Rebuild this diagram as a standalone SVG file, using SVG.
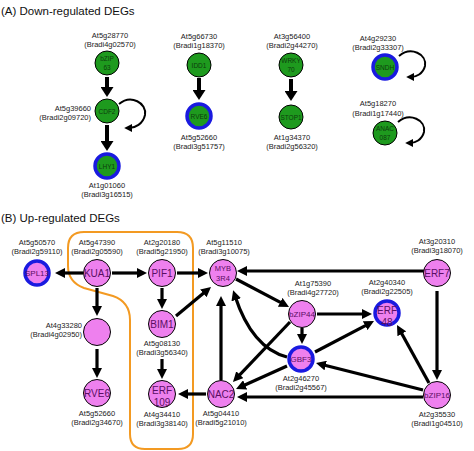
<svg xmlns="http://www.w3.org/2000/svg" width="474" height="451" viewBox="0 0 474 451">
<style>
text{font-family:"Liberation Sans",Arial,sans-serif}
.lbl{font-size:7.5px;fill:#222;text-anchor:middle}
.lr{text-anchor:end}
.title{font-size:11.5px;fill:#111}
.gn{fill:#1e9a1e;stroke:#000;stroke-width:1}
.gnb{fill:#1e9a1e;stroke:#1a1ae0;stroke-width:3.5}
.pn{fill:#ee80ee;stroke:#000;stroke-width:1}
.pnb{fill:#ee80ee;stroke:#1a1ae0;stroke-width:3.5}
.gt{font-size:6.5px;fill:#0d3d0d;text-anchor:middle}
.pt{font-size:10px;fill:#5a0f63;text-anchor:middle}
.ps{font-size:8px;fill:#5a0f63;text-anchor:middle}
.e{stroke:#000;stroke-width:3.2;fill:none;marker-end:url(#ah)}
.ea{stroke:#000;stroke-width:4;fill:none;marker-end:url(#aha)}
.loop{stroke:#000;stroke-width:2;fill:none;marker-end:url(#ahl)}
.hull{fill:none;stroke:#f39a22;stroke-width:2}
</style>
<defs>
<marker id="ah" markerUnits="userSpaceOnUse" viewBox="0 0 10 10" markerWidth="10" markerHeight="10" refX="4" refY="5" orient="auto"><path d="M0,0 L10,5 L0,10 Z" fill="#000"/></marker>
<marker id="aha" markerUnits="userSpaceOnUse" viewBox="0 0 10 13" markerWidth="10" markerHeight="13" refX="4" refY="6.5" orient="auto"><path d="M0,0 L10,6.5 L0,13 Z" fill="#000"/></marker>
<marker id="ahl" markerUnits="userSpaceOnUse" viewBox="0 0 10 10" markerWidth="8" markerHeight="8" refX="4" refY="5" orient="auto"><path d="M0,0 L10,5 L0,10 Z" fill="#000"/></marker>
</defs>
<rect width="474" height="451" fill="#fff"/>

<text class="title" x="1" y="15">(A) Down-regulated DEGs</text>
<text class="title" x="1" y="222">(B) Up-regulated DEGs</text>

<path id="cluster" class="hull" d="M193,248 L193,434 Q193,449 178,449 L145,449 Q130,449 130,434 L130,320 Q130,302 113,296 L84,288 Q68,282 68,266 L68,248 Q68,232 84,232 L177,232 Q193,232 193,248 Z"/>

<g id="connectors">
<!-- A -->
<line class="ea" x1="107" y1="77" x2="107" y2="91"/>
<line class="ea" x1="107" y1="125" x2="107" y2="145"/>
<line class="ea" x1="199" y1="78" x2="199" y2="94"/>
<line class="ea" x1="291" y1="79" x2="291" y2="95"/>
<path class="loop" d="M119,104 C131,94 147,103 145,115 C143,124 135,128 129,128"/>
<path class="loop" d="M399,56 C411,46 427,54 425,66 C423,74 416,77 411,77"/>
<path class="loop" d="M398,122 C410,112 426,120 424,132 C422,140 415,143 410,143"/>
<!-- B -->
<line class="e" x1="83" y1="273" x2="61" y2="273"/>
<line class="e" x1="112" y1="273" x2="141" y2="273"/>
<line class="e" x1="177" y1="273" x2="202" y2="273"/>
<line class="e" x1="97" y1="288" x2="97" y2="310"/>
<line class="e" x1="97" y1="349" x2="97" y2="372"/>
<line class="e" x1="162" y1="288" x2="162" y2="303"/>
<line class="e" x1="162" y1="359" x2="162" y2="373"/>
<line class="e" x1="176" y1="316" x2="206.4" y2="290.8"/>
<line class="e" x1="206" y1="394" x2="184" y2="394"/>
<line class="e" x1="221" y1="380" x2="221" y2="302"/>
<line class="e" x1="424" y1="271" x2="243" y2="271"/>
<line class="e" x1="236" y1="279" x2="283.7" y2="304.2"/>
<line class="e" x1="317" y1="314" x2="366" y2="314"/>
<line class="e" x1="302" y1="328" x2="302" y2="338"/>
<line class="e" x1="315" y1="352" x2="368.7" y2="323.8"/>
<line class="e" x1="429" y1="383" x2="399.9" y2="330.3"/>
<line class="e" x1="423" y1="390" x2="321.8" y2="364.5"/>
<line class="e" x1="423" y1="397" x2="243" y2="397"/>
<line class="e" x1="437" y1="291" x2="437" y2="374"/>
<line class="e" x1="287" y1="366" x2="241.5" y2="386.5"/>
<line class="e" x1="290" y1="322" x2="237.1" y2="377.6"/>
<path class="e" d="M287,357 Q252,348 235,296"/>
</g>

<!-- A nodes -->
<g id="bZIP63"><text class="lbl" x="110" y="37.5">At5g28770</text><text class="lbl" x="110" y="47">(Bradi4g02570)</text><circle class="gn" cx="107" cy="63" r="12"/><text class="gt" x="107" y="61">bZIP</text><text class="gt" x="107" y="69.5">63</text></g>
<g id="CDF2"><text class="lbl lr" x="91" y="111">At5g39660</text><text class="lbl lr" x="91" y="120">(Bradi2g09720)</text><circle class="gn" cx="107" cy="111" r="12"/><text class="gt" x="107" y="113.5">CDF2</text></g>
<g id="LHY1"><circle class="gnb" cx="107" cy="166" r="12"/><text class="gt" x="107" y="168.5">LHY1</text><text class="lbl" x="107" y="187.5">At1g01060</text><text class="lbl" x="107" y="197">(Bradi3g16515)</text></g>
<g id="IDD1"><text class="lbl" x="199" y="38.5">At5g66730</text><text class="lbl" x="199" y="48">(Bradi1g18370)</text><circle class="gn" cx="199" cy="65" r="12"/><text class="gt" x="199" y="67.5">IDD1</text></g>
<g id="RVE6a"><circle class="gnb" cx="199" cy="116" r="12"/><text class="gt" x="199" y="118.5">RVE6</text><text class="lbl" x="199" y="139.5">At5g52660</text><text class="lbl" x="199" y="149">(Bradi3g51757)</text></g>
<g id="WRKY70"><text class="lbl" x="292" y="38.5">At3g56400</text><text class="lbl" x="292" y="48">(Bradi2g44270)</text><circle class="gn" cx="291" cy="65" r="12"/><text class="gt" x="291" y="63">WRKY</text><text class="gt" x="291" y="71.5">70</text></g>
<g id="STOP1"><circle class="gn" cx="291" cy="117" r="12"/><text class="gt" x="291" y="119.5">STOP1</text><text class="lbl" x="292" y="139.5">At1g34370</text><text class="lbl" x="292" y="149">(Bradi2g56320)</text></g>
<g id="SNDH"><text class="lbl" x="378" y="40.5">At4g29230</text><text class="lbl" x="378" y="50">(Bradi2g33307)</text><circle class="gnb" cx="385" cy="67" r="12"/><text class="gt" x="385" y="69.5">SNDH</text></g>
<g id="ANAC087"><text class="lbl" x="378" y="106">At5g18270</text><text class="lbl" x="378" y="115.5">(Bradi1g17440)</text><circle class="gn" cx="385" cy="133" r="12"/><text class="gt" x="385" y="131">ANAC</text><text class="gt" x="385" y="139.5">087</text></g>

<!-- B nodes -->
<g id="SPL13"><text class="lbl" x="37" y="244.5">At5g50570</text><text class="lbl" x="37" y="254">(Bradi2g59110)</text><circle class="pnb" cx="37" cy="273" r="12"/><text class="ps" x="37" y="276">SPL13</text></g>
<g id="KUA1"><text class="lbl" x="97" y="244.5">At5g47390</text><text class="lbl" x="97" y="254">(Bradi2g05590)</text><circle class="pn" cx="97" cy="273" r="13.5"/><text class="pt" x="97" y="276.5">KUA1</text></g>
<g id="PIF1"><text class="lbl" x="162" y="244.5">At2g20180</text><text class="lbl" x="162" y="254">(Bradi5g21950)</text><circle class="pn" cx="162" cy="273" r="13.5"/><text class="pt" x="162" y="276.5">PIF1</text></g>
<g id="MYB3R4"><text class="lbl" x="224" y="244.5">At5g11510</text><text class="lbl" x="224" y="254">(Bradi3g10075)</text><circle class="pn" cx="223" cy="273" r="13.5"/><text class="ps" x="223" y="271" style="font-size:7.5px">MYB</text><text class="ps" x="223" y="281" style="font-size:7.5px">3R4</text></g>
<g id="At4g33280"><text class="lbl lr" x="82" y="327.5">At4g33280</text><text class="lbl lr" x="82" y="337">(Bradi4g02950)</text><circle class="pn" cx="97" cy="332" r="13.5"/></g>
<g id="BIM1"><circle class="pn" cx="162" cy="324" r="13.5"/><text class="pt" x="162" y="327.5">BIM1</text><text class="lbl" x="162" y="345.5">At5g08130</text><text class="lbl" x="162" y="355">(Bradi3g56340)</text></g>
<g id="RVE6"><circle class="pn" cx="97" cy="393" r="13.5"/><text class="pt" x="97" y="396.5">RVE6</text><text class="lbl" x="97" y="415.5">At5g52660</text><text class="lbl" x="97" y="425">(Bradi2g34670)</text></g>
<g id="ERF109"><circle class="pn" cx="162" cy="394" r="13.5"/><text class="pt" x="162" y="394">ERF</text><text class="pt" x="162" y="406">109</text><text class="lbl" x="162" y="416.5">At4g34410</text><text class="lbl" x="162" y="426">(Bradi3g38140)</text></g>
<g id="NAC2"><circle class="pn" cx="221" cy="394" r="13.5"/><text class="pt" x="221" y="397.5">NAC2</text><text class="lbl" x="221" y="415.5">At5g04410</text><text class="lbl" x="221" y="425">(Bradi5g21010)</text></g>
<g id="bZIP44"><text class="lbl" x="313" y="285.5">At1g75390</text><text class="lbl" x="313" y="295">(Bradi4g27720)</text><circle class="pn" cx="302" cy="314" r="13.5"/><text class="ps" x="302" y="317">bZIP44</text></g>
<g id="ERF48"><text class="lbl" x="387" y="284.5">At2g40340</text><text class="lbl" x="387" y="294">(Bradi2g22505)</text><circle class="pnb" cx="387" cy="313" r="12"/><text class="pt" x="387" y="313.5">ERF</text><text class="pt" x="387" y="325.5">48</text></g>
<g id="GBF3"><circle class="pnb" cx="301" cy="359" r="12"/><text class="ps" x="301" y="362">GBF3</text><text class="lbl" x="301" y="380.5">At2g46270</text><text class="lbl" x="301" y="390">(Bradi2g45567)</text></g>
<g id="ERF7"><text class="lbl" x="437" y="243.5">At3g20310</text><text class="lbl" x="437" y="253">(Bradi3g18070)</text><circle class="pn" cx="437" cy="273" r="13.5"/><text class="pt" x="437" y="276.5">ERF7</text></g>
<g id="bZIP16"><circle class="pn" cx="437" cy="395" r="13.5"/><text class="ps" x="437" y="398">bZIP16</text><text class="lbl" x="437" y="416.5">At2g35530</text><text class="lbl" x="437" y="426">(Bradi1g04510)</text></g>
</svg>
